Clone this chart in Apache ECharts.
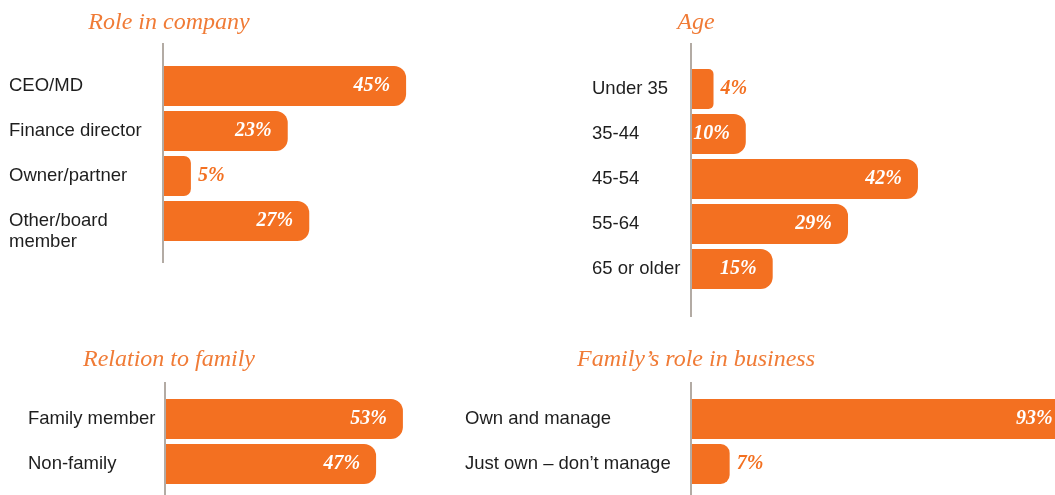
<!DOCTYPE html>
<html>
<head>
<meta charset="utf-8">
<script src="https://cdn.jsdelivr.net/npm/echarts@6/dist/echarts.min.js"></script>
<style>
html,body{margin:0;padding:0;background:#fff;}
#main{width:1055px;height:495px;}
</style>
</head>
<body>
<div id="main"></div>
<script>
// data
var roleCategories = ['CEO/MD', 'Finance director', 'Owner/partner', 'Other/board\nmember'];
var roleValues = [45, 23, 5, 27];
var ageCategories = ['Under 35', '35-44', '45-54', '55-64', '65 or older'];
var ageValues = [4, 10, 42, 29, 15];
var relationCategories = ['Family member', 'Non-family'];
var relationValues = [53, 47];
var familyRoleCategories = ['Own and manage', 'Just own – don’t manage'];
var familyRoleValues = [93, 7];

var ORANGE = '#f37021';

// panel layout: [title, categories, values, left, top, max, pxPerPct, labelMargin, titleX, titleTop, axisTop, axisBottom]
var panels = [
    ['Role in company', roleCategories, roleValues, 164, 63.5, 100, 5.38, 155, 164, 6, 43, 263],
    ['Age', ageCategories, ageValues, 692, 66.5, 100, 5.38, 100, 691, 6, 43, 317],
    ['Relation to family', relationCategories, relationValues, 166, 396.5, 100, 4.47, 138, 164, 343, 382, 495],
    ['Family’s role in business', familyRoleCategories, familyRoleValues, 692, 396.5, 70, 5.38, 227, 691, 343, 382, 495]
];

var titles = [], grids = [], xAxes = [], yAxes = [], series = [], lines = [];

for (var i = 0; i < panels.length; i++) {
    var p = panels[i];
    var scale = p[6];
    titles.push({
        text: p[0],
        left: p[8],
        top: p[9],
        textAlign: 'center',
        textStyle: {
            fontFamily: 'Liberation Serif',
            fontStyle: 'italic',
            fontWeight: 'normal',
            fontSize: 24,
            color: '#f07b36'
        }
    });
    grids.push({
        left: p[3],
        top: p[4],
        width: p[5] * scale,
        height: p[1].length * 45,
        containLabel: false,
        outerBoundsMode: 'none'
    });
    xAxes.push({
        type: 'value',
        gridIndex: i,
        min: 0,
        max: p[5],
        show: false
    });
    yAxes.push({
        type: 'category',
        gridIndex: i,
        inverse: true,
        data: p[1],
        axisLine: { show: false },
        axisTick: { show: false },
        splitLine: { show: false },
        axisLabel: {
            align: 'left',
            margin: p[7],
            fontFamily: 'Liberation Sans',
            fontSize: 18.5,
            lineHeight: 21,
            color: '#1e1e1e',
            //两行的标签，第一行对齐柱子中心
            formatter: function (c) {
                return c.indexOf('\n') > -1 ? '\n' + c : c;
            }
        }
    });
    series.push({
        type: 'bar',
        xAxisIndex: i,
        yAxisIndex: i,
        barWidth: 40,
        clip: true,
        itemStyle: { color: ORANGE },
        label: {
            show: true,
            position: 'insideRight',
            distance: 16,
            formatter: '{c}%',
            color: '#fff',
            fontFamily: 'Liberation Serif',
            fontStyle: 'italic',
            fontWeight: 'bold',
            fontSize: 20
        },
        data: p[2].map(function (v) {
            var r = Math.min(12, Math.round(v * scale / 4));
            var item = { value: v, itemStyle: { borderRadius: [0, r, r, 0] } };
            if (v < 8) {
                item.label = { position: 'right', distance: 7, color: ORANGE };
            }
            return item;
        })
    });
    lines.push({
        type: 'line',
        shape: { x1: p[3] - 1, y1: p[10], x2: p[3] - 1, y2: p[11] },
        style: { stroke: '#b3aba4', lineWidth: 2 },
        z: 10
    });
}

var chart = echarts.init(document.getElementById('main'));
chart.setOption({
    animation: false,
    title: titles,
    grid: grids,
    xAxis: xAxes,
    yAxis: yAxes,
    series: series,
    graphic: lines
});
</script>
</body>
</html>
